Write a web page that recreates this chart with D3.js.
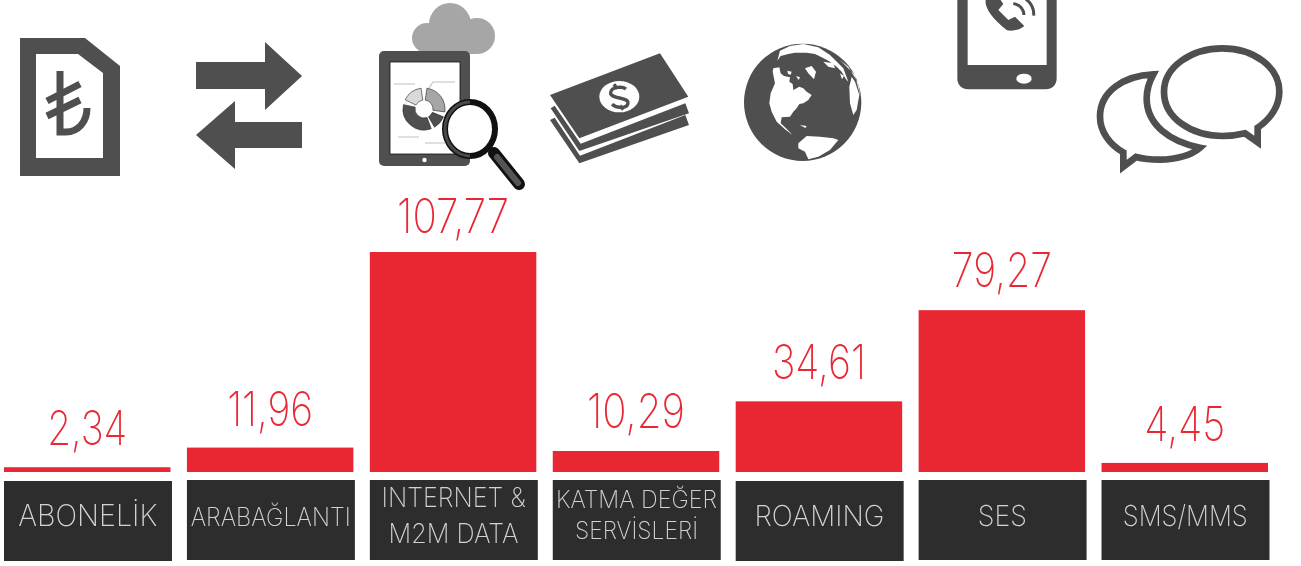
<!DOCTYPE html>
<html>
<head>
<meta charset="utf-8">
<script src="https://cdn.jsdelivr.net/npm/d3@7"></script>
<style>
html, body { margin: 0; padding: 0; background: #fff; overflow: hidden; }
text { font-family: Inter, Lato, sans-serif; font-weight: 200; }
</style>
</head>
<body>
<div class="display"></div>
<script>
// chart data
const categories = ['ABONELİK', 'ARABAĞLANTI', 'INTERNET & M2M DATA', 'KATMA DEĞER SERVİSLERİ', 'ROAMING', 'SES', 'SMS/MMS'];
const categoryLines = [['ABONELİK'], ['ARABAĞLANTI'], ['INTERNET &', 'M2M DATA'], ['KATMA DEĞER', 'SERVİSLERİ'], ['ROAMING'], ['SES'], ['SMS/MMS']];
const values = [2.34, 11.96, 107.77, 10.29, 34.61, 79.27, 4.45];

// text fitting per category
const valueWidths = [80, 86, 112, 98, 94, 100, 81];
const valueGaps = [22, 22, 19, 23, 22, 23, 22];
const labelSizes = [30, 25, 27, 24, 29, 29, 29];
const labelWidths = [[139], [160], [144, 130], [161, 123], [130], [49], [125]];

const width = 1301;
const height = 566;
const red = '#e82733';
const boxColor = '#2d2d2d';
const iconColor = '#4f4f4f';

const svg = d3.select('.display')
    .append('svg')
    .attr('width', width)
    .attr('height', height)
    .style('display', 'block');

const xScale = d3.scaleBand()
    .domain(categories)
    .range([4, 1268])
    .paddingInner(0.09);

const yScale = d3.scaleLinear()
    .domain([0, 107.77])
    .range([472, 252]);

const formatValue = d => d.toFixed(2).replace('.', ',');

const columns = categories.map((name, i) => ({ name, value: values[i], lines: categoryLines[i], i }));

svg.selectAll('.bar')
    .data(columns)
    .enter()
    .append('rect')
    .attr('class', 'bar')
    .attr('x', d => xScale(d.name))
    .attr('y', d => yScale(d.value))
    .attr('width', xScale.bandwidth())
    .attr('height', d => yScale(0) - yScale(d.value))
    .attr('fill', red);

svg.selectAll('.box')
    .data(columns)
    .enter()
    .append('rect')
    .attr('class', 'box')
    .attr('x', d => xScale(d.name))
    .attr('y', d => (d.i === 0 || d.i === 4) ? 481 : 480)
    .attr('width', xScale.bandwidth() + 1.5)
    .attr('height', 80)
    .attr('fill', boxColor);

// opacity just under 1 keeps the text antialiasing grey instead of coloured
const textLayer = svg.append('g').style('opacity', 0.995);

textLayer.selectAll('.value')
    .data(columns)
    .enter()
    .append('text')
    .attr('class', 'value')
    .attr('x', d => xScale(d.name) + xScale.bandwidth() / 2)
    .attr('y', d => yScale(d.value) - valueGaps[d.i])
    .attr('text-anchor', 'middle')
    .attr('font-size', 48)
    .attr('fill', red)
    .attr('textLength', d => valueWidths[d.i])
    .attr('lengthAdjust', 'spacingAndGlyphs')
    .text(d => formatValue(d.value));

const labels = textLayer.selectAll('.label')
    .data(columns)
    .enter()
    .append('g')
    .attr('class', 'label')
    .attr('transform', d => `translate(${xScale(d.name) + xScale.bandwidth() / 2 + 0.5}, 0)`);

labels.each(function (d) {
    const two = d.lines.length === 2;
    d3.select(this).selectAll('text')
        .data(d.lines)
        .enter()
        .append('text')
        .attr('text-anchor', 'middle')
        .attr('y', (l, j) => two ? (d.i === 2 ? 507 + j * 36 : 508 + j * 31) : 526)
        .attr('font-size', labelSizes[d.i])
        .attr('fill', '#d4d4d4')
        .attr('textLength', (l, j) => labelWidths[d.i][j])
        .attr('lengthAdjust', 'spacingAndGlyphs')
        .text(l => l);
});

// icons above the bars, drawn in the pixel space of the zoomed crops
const icons = svg.append('g').attr('class', 'icons');

// sim card with lira sign
const sim = icons.append('g');
sim.append('path')
    .attr('d', 'M20,38H85L120,66V176H20Z M36,54V158H103V73L78,54Z')
    .attr('fill', iconColor)
    .attr('fill-rule', 'evenodd');
sim.append('path')
    .attr('d', 'M60,71V132H66C78,132 87,122 87,108 M47,101L80,84 M47,116L80,100')
    .attr('fill', 'none')
    .attr('stroke', iconColor)
    .attr('stroke-width', 7);

// transfer arrows
icons.append('path')
    .attr('d', 'M196,62H265V42L302,76L265,110V89H196Z M302,122H235V101L196,135L235,169V148H302Z')
    .attr('fill', iconColor);

// tablet with cloud and magnifier
const tablet = icons.append('g');
const cloud = tablet.append('g').attr('fill', '#a6a6a6');
cloud.append('circle').attr('cx', 450).attr('cy', 24).attr('r', 21);
cloud.append('circle').attr('cx', 427).attr('cy', 38).attr('r', 15);
cloud.append('circle').attr('cx', 477).attr('cy', 36).attr('r', 18);
cloud.append('rect').attr('x', 427).attr('y', 30).attr('width', 50).attr('height', 24);
tablet.append('rect')
    .attr('x', 379).attr('y', 51).attr('width', 91).attr('height', 115).attr('rx', 5)
    .attr('fill', iconColor);
tablet.append('rect')
    .attr('x', 390).attr('y', 62).attr('width', 70).attr('height', 92)
    .attr('fill', '#fff').attr('stroke', '#111').attr('stroke-width', 0.8);
tablet.append('circle').attr('cx', 424.5).attr('cy', 160).attr('r', 2.2).attr('fill', '#fff');
tablet.append('path')
    .attr('d', 'M394,84H415 M433,82H455 M433,82L429,88 M398,137H419 M425,143H445')
    .attr('fill', 'none').attr('stroke', '#b5c7c5').attr('stroke-width', 1.2);

const arc = d3.arc().innerRadius(9).outerRadius(21);
const deg = d => d * Math.PI / 180;
const donutParts = [
    [160, 282, '#4f4f4f'],
    [296, 352, '#d9d9d9'],
    [8, 98, '#a6a6a6'],
    [112, 150, '#4f4f4f']
];
tablet.append('g')
    .attr('transform', 'translate(424,109)')
    .selectAll('path')
    .data(donutParts)
    .enter()
    .append('path')
    .attr('d', d => arc({ startAngle: deg(d[0]), endAngle: deg(d[1]) }))
    .attr('fill', d => d[2])
    .attr('stroke', '#222')
    .attr('stroke-width', 0.6);

tablet.append('path')
    .attr('d', 'M494,153L519,184')
    .attr('stroke', '#111').attr('stroke-width', 12).attr('stroke-linecap', 'round');
tablet.append('path')
    .attr('d', 'M497,157L518,183')
    .attr('stroke', '#555').attr('stroke-width', 6).attr('stroke-linecap', 'round');
tablet.append('ellipse')
    .attr('cx', 470).attr('cy', 129).attr('rx', 25).attr('ry', 27)
    .attr('fill', '#fff').attr('stroke', '#111').attr('stroke-width', 6);
tablet.append('path')
    .attr('d', 'M470,102A25,27 0 0,0 470,156')
    .attr('fill', 'none').attr('stroke', '#4a4a4a').attr('stroke-width', 3);

// banknotes, coordinates from a 3x crop at (540,45)
const money = icons.append('g').attr('transform', 'translate(540,45) scale(0.3333)');
money.append('path')
    .attr('d', 'M30,150L360,25L445,155L118,280Z M32,190L118,318L447,205L436,175L122,296L44,182Z M30,225L118,355L447,240L436,210L120,332L44,218Z')
    .attr('fill', iconColor);
money.append('ellipse')
    .attr('cx', 238).attr('cy', 155).attr('rx', 60).attr('ry', 47).attr('fill', '#fff');
money.append('path')
    .attr('d', 'M258,132C248,124 214,124 212,143C210,163 264,155 264,173C264,190 232,192 216,178 M222,118L232,132 M240,182L250,194')
    .attr('fill', 'none').attr('stroke', iconColor).attr('stroke-width', 10);

// globe, coordinates from a 3x crop at (740,40)
const globe = icons.append('g').attr('transform', 'translate(740,40) scale(0.3333)');
globe.append('circle').attr('cx', 188).attr('cy', 187).attr('r', 176).attr('fill', iconColor);
const land = [
    'M100,85L118,82L122,100L132,108L150,112L148,125L158,132L160,150L178,140L190,145L200,155L215,165L205,180L190,190L178,192L170,205L160,215L150,230L125,232L122,250L135,262L158,285L135,268L110,245L95,215L88,190L92,160L105,130L98,95Z',
    'M112,62L122,48L145,42L165,38L200,38L225,42L245,52L265,62L290,80L305,95L318,118L325,125L310,85L270,45L235,22L190,12L150,18L120,32Z',
    'M195,85L215,78L228,95L222,118L205,100Z',
    'M335,110L345,125L358,165L350,210L340,225L330,190L328,140Z',
    'M175,310L200,288L240,290L280,295L295,300L270,330L235,350L205,358L195,335L175,325Z',
    'M300,60L345,105L360,165L362,175L355,130L325,80Z',
    'M250,65L280,70L285,85L265,80Z',
    'M142,92L155,95L152,104L144,102Z',
    'M168,108L180,112L176,120Z',
    'M180,255L200,258L196,264Z',
    'M300,100L312,108L306,118Z'
];
globe.selectAll('.land')
    .data(land)
    .enter()
    .append('path')
    .attr('class', 'land')
    .attr('d', d => d)
    .attr('fill', '#fff');

// phone, cut off by the top edge, 3x crop at (945,0)
const phone = icons.append('g').attr('transform', 'translate(945,0) scale(0.3333)');
phone.append('path')
    .attr('d', 'M37,-30V235C37,255 50,268 70,268H302C322,268 335,255 335,235V-30Z M68,-30V195H305V-30Z')
    .attr('fill', iconColor)
    .attr('fill-rule', 'evenodd');
phone.append('ellipse').attr('cx', 237).attr('cy', 236).attr('rx', 23).attr('ry', 15).attr('fill', '#fff');
phone.append('path')
    .attr('d', 'M122,0C118,20 140,55 185,90C200,95 225,90 238,78L210,50L190,60L160,30L175,12L160,-10Z')
    .attr('fill', iconColor);
phone.append('path')
    .attr('d', 'M205,10C225,15 236,28 237,45 M240,-5C258,8 268,25 266,47')
    .attr('fill', 'none').attr('stroke', iconColor).attr('stroke-width', 9);

// speech bubbles, 3x crop at (1090,35)
const chat = icons.append('g')
    .attr('transform', 'translate(1090,35) scale(0.3333)')
    .attr('fill', 'none')
    .attr('stroke', iconColor)
    .attr('stroke-width', 20);
chat.append('path')
    .attr('d', 'M465,295L503,322V278C545,250 568,210 568,170C568,95 490,40 397,40C305,40 222,95 222,170C222,250 305,303 397,303C420,303 445,300 465,295Z');
chat.append('path')
    .attr('d', 'M190,118C100,122 30,170 30,245C30,290 60,330 100,352V395L138,366C160,372 185,374 210,374C260,374 305,360 330,338C240,320 170,270 170,190C170,165 178,140 190,118Z');
</script>
</body>
</html>
